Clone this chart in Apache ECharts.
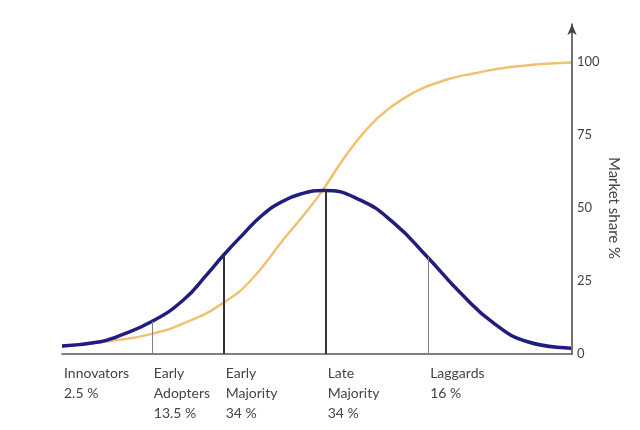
<!DOCTYPE html>
<html>
<head>
<meta charset="UTF-8" />
<title>Diffusion of innovations</title>
<script src="https://cdn.jsdelivr.net/npm/echarts@6/dist/echarts.min.js"></script>
<style type="text/css">
body{
	margin: 0px;
	background: #fff;
}
#chart{
	width: 640px;
	height: 430px;
}
</style>
</head>
<body>

<div id="chart"></div>

<script type="text/javascript">

// adoption curve (bell), x in % of time span, y in market share %
var bellX = [0, 7.5, 10.7, 17.6, 23.8, 28.4, 31.7, 35.4, 39.3, 43.2, 46.8, 51.3, 58.5, 65.1, 71.6, 78.2, 84.7, 91.3, 99.8];
var bellY = [2.7, 4.2, 5.9, 11.1, 18.5, 27.2, 33.9, 40.8, 47.6, 52.2, 54.8, 56.0, 52.7, 44.8, 33.3, 20.8, 10.5, 4.2, 2.0];

// cumulative market share (S curve)
var shareX = [0, 10.1, 17.6, 25.1, 31.7, 36.9, 43.5, 48.7, 52.0, 54.6, 57.2, 60.5, 63.8, 67.1, 70.3, 73.6, 76.9, 80.2, 88.0, 99.8];
var shareY = [2.5, 4.6, 6.9, 11.4, 17.6, 25.0, 39.4, 50.4, 58.4, 65.3, 71.6, 78.4, 83.6, 87.6, 90.7, 92.9, 94.7, 95.9, 98.3, 99.8];

// adopter groups
var groupStart = [0, 17.6, 31.7, 51.7, 71.8];
var groupNames = ['Innovators', 'Early\nAdopters', 'Early\nMajority', 'Late\nMajority', 'Laggards'];
var groupShares = ['2.5 %', '13.5 %', '34 %', '34 %', '16 %'];

// divider lines: x position and height (where they meet the bell)
var dividerX = [17.6, 31.7, 51.7, 71.8];
var dividerTop = [11.1, 33.9, 55.9, 33.3];

var yTicks = [0, 25, 50, 75, 100];

function pairs(xs, ys){
	return xs.map(function(x, i){ return [x, ys[i]]; });
}

var strong = [false, true, true, false];
var dividers = dividerX.map(function(x, i){
	return [
		{coord: [x, 0], lineStyle: {color: strong[i] ? '#333' : '#808080', width: strong[i] ? 2 : 1, type: 'solid'}},
		{coord: [x, dividerTop[i]]}
	];
});

var font = 'Lato, "Open Sans", sans-serif';

var myChart = echarts.init(document.getElementById('chart'));
myChart.setOption({
	animation: false,
	grid: {left: 62, right: 68, top: 24, bottom: 76},
	xAxis: {
		type: 'value',
		min: 0,
		max: 100,
		splitLine: {show: false},
		axisLine: {show: true, lineStyle: {color: '#555', width: 1.5}},
		axisTick: {show: false},
		axisLabel: {
			customValues: groupStart,
			align: 'left',
			margin: 9,
			padding: [0, 0, 0, 2],
			color: '#444',
			fontFamily: font,
			fontSize: 14,
			lineHeight: 20,
			formatter: function(v){
				var i = groupStart.indexOf(v);
				if(i < 0) return '';
				return groupNames[i] + '\n' + groupShares[i];
			}
		}
	},
	yAxis: {
		type: 'value',
		position: 'right',
		min: 0,
		max: 113,
		splitLine: {show: false},
		axisLine: {
			show: true,
			onZero: false,
			symbol: ['none', 'arrow'],
			symbolSize: [7, 11],
			lineStyle: {color: '#444', width: 1.5}
		},
		axisTick: {show: false},
		axisLabel: {
			customValues: yTicks,
			margin: 5,
			color: '#444',
			fontFamily: font,
			fontSize: 13
		}
	},
	graphic: [{
		type: 'text',
		x: 614,
		y: 208,
		rotation: -Math.PI / 2,
		style: {
			text: 'Market share %',
			fill: '#444',
			font: '15px ' + font,
			align: 'center',
			verticalAlign: 'middle'
		}
	}],
	series: [
		{
			name: 'Market share',
			type: 'line',
			smooth: true,
			symbol: 'none',
			data: pairs(shareX, shareY),
			lineStyle: {color: '#efc171', width: 2.5},
			z: 2
		},
		{
			name: 'Adopters',
			type: 'line',
			smooth: true,
			symbol: 'none',
			data: pairs(bellX, bellY),
			lineStyle: {color: '#211c80', width: 3.5},
			z: 3,
			markLine: {
				silent: true,
				symbol: 'none',
				label: {show: false},
				data: dividers
			}
		}
	]
});

</script>

</body>
</html>
